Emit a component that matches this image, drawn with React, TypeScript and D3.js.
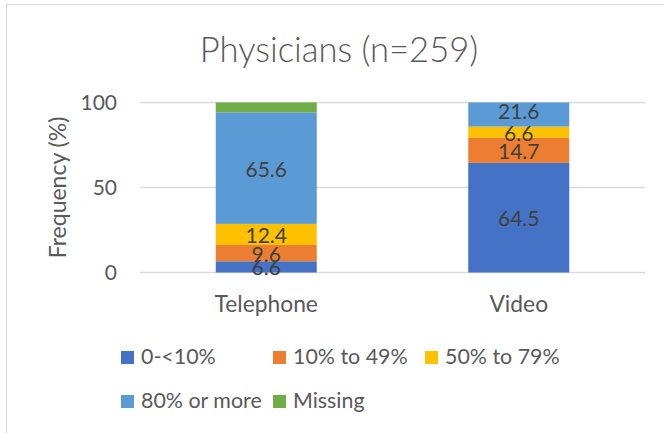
import React from "react";
import * as d3 from "d3";

const categories = ["Telephone", "Video"];
const seriesNames = ["0-<10%", "10% to 49%", "50% to 79%", "80% or more", "Missing"];
const seriesColors = ["#4472C4", "#ED7D31", "#FFC000", "#5B9BD5", "#70AD47"];
const lowValues = [6.6, 64.5];
const midValues = [9.6, 14.7];
const highValues = [12.4, 6.6];
const topValues = [65.6, 21.6];
const missingValues = [5.8, 0];
const showLabel = [true, true, true, true, false];
const yTicks = [0, 50, 100];
const title = "Physicians (n=259)";
const yTitle = "Frequency (%)";

const W = 664;
const H = 433;
const FONT = "Lato, 'Open Sans', sans-serif";
const TXT = "#595959";

export default function App() {
  const series = [lowValues, midValues, highValues, topValues, missingValues];
  const rows = categories.map((c, i) => {
    const r: any = { cat: c };
    seriesNames.forEach((s, j) => (r[s] = series[j][i]));
    return r;
  });
  const stacked = d3.stack().keys(seriesNames)(rows);

  const x = d3.scaleBand().domain(categories).range([140, 645]).paddingInner(0.6).paddingOuter(0.3);
  const y = d3.scaleLinear().domain([0, 100]).range([272.5, 102.5]).clamp(true);
  const yRaw = d3.scaleLinear().domain([0, 100]).range([272.5, 102.5]);
  const top = y(100);
  const fs = 21;

  return (
    <svg width={W} height={H} style={{ position: "absolute", left: 0, top: 0 }}>
      <rect x={0} y={0} width={W} height={H} fill="#fff" />
      <rect x={6.5} y={4.5} width={W + 20} height={H + 20} fill="#fff" stroke="#D9D9D9" strokeWidth={1} />
      <text x={339} y={62} textAnchor="middle" fontFamily={FONT} fontWeight={300} fontSize={34.6} fill={TXT}>
        {title}
      </text>
      {yTicks.map((t) => (
        <g key={t}>
          <line x1={140} x2={645} y1={y(t)} y2={y(t)} stroke="#D9D9D9" strokeWidth={1.5} />
          <text x={117} y={y(t) + 7.5} textAnchor="end" fontFamily={FONT} fontSize={fs} fill={TXT}>
            {t}
          </text>
        </g>
      ))}
      <text
        transform={`translate(66,${(y(0) + y(100)) / 2}) rotate(-90)`}
        textAnchor="middle"
        fontFamily={FONT}
        fontSize={23}
        fill={TXT}
      >
        {yTitle}
      </text>
      {stacked.map((layer, j) => (
        <g key={seriesNames[j]}>
          {layer.map((d: any, i: number) => {
            const cat = categories[i];
            const y0 = y(d[0]);
            const y1 = y(d[1]);
            if (y0 - y1 <= 0) return null;
            return (
              <rect key={cat} x={x(cat)} width={x.bandwidth()} y={y1} height={y0 - y1} fill={seriesColors[j]} />
            );
          })}
        </g>
      ))}
      {stacked.map((layer, j) =>
        showLabel[j] ? (
          <g key={"l" + seriesNames[j]}>
            {layer.map((d: any, i: number) => {
              const cat = categories[i];
              const v = d[1] - d[0];
              if (v <= 0) return null;
              const yc = Math.max(yRaw((d[0] + d[1]) / 2), top + 7.5);
              return (
                <text
                  key={cat}
                  x={(x(cat) as number) + x.bandwidth() / 2}
                  y={yc + 8.5}
                  textAnchor="middle"
                  fontFamily={FONT}
                  fontSize={fs}
                  fill="#404040"
                >
                  {v.toFixed(1)}
                </text>
              );
            })}
          </g>
        ) : null
      )}
      {categories.map((c) => (
        <text key={c} x={(x(c) as number) + x.bandwidth() / 2} y={312} textAnchor="middle" fontFamily={FONT} fontSize={22.8} fill={TXT}>
          {c}
        </text>
      ))}
      {seriesNames.map((s, j) => {
        const col = j < 3 ? j : j - 3;
        const row = j < 3 ? 0 : 1;
        const lx = 121 + col * 152;
        const ly = 351 + row * 44;
        return (
          <g key={s}>
            <rect x={lx} y={ly} width={13} height={13} fill={seriesColors[j]} />
            <text x={lx + 20} y={ly + 13} fontFamily={FONT} fontSize={21.4} fill={TXT}>
              {s}
            </text>
          </g>
        );
      })}
    </svg>
  );
}
